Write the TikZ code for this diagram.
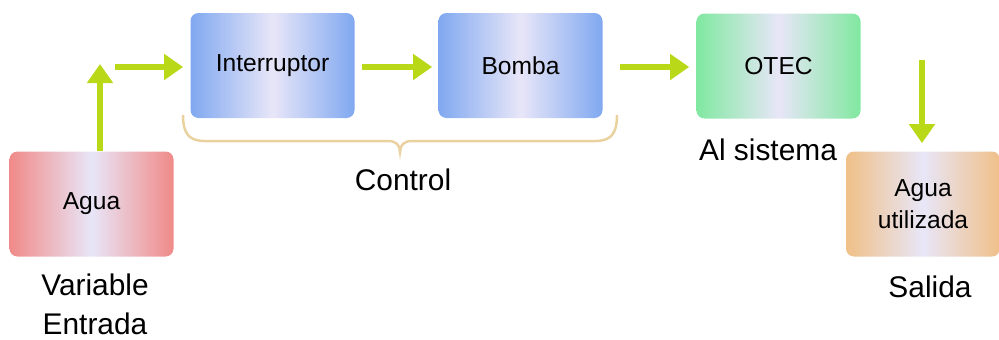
\documentclass[tikz,border=0pt]{standalone}
\usepackage{fontspec}
\setmainfont{Liberation Sans}
\usetikzlibrary{arrows.meta, positioning}

\definecolor{aguared}{HTML}{F08A88}
\definecolor{ctrlblue}{HTML}{80A8F0}
\definecolor{otecgreen}{HTML}{80E8A0}
\definecolor{outorange}{HTML}{F0C088}
\definecolor{boxmid}{HTML}{E8E6F8}
\definecolor{flowgreen}{HTML}{B8D818}
\definecolor{bracetan}{HTML}{EAD2A0}

\begin{document}
\begin{tikzpicture}[
    box_style/.style={rounded corners=1.6mm, minimum width=3.28cm, minimum height=2.1cm,
        inner sep=0pt, align=center, font=\fontsize{14}{18.5}\selectfont,
        left color=#1, right color=#1, middle color=boxmid},
    flow_style/.style={-{Triangle[length=3.8mm, width=5mm]}, line width=1.2mm, flowgreen},
    label_style/.style={align=center, font=\fontsize{17}{22}\selectfont, inner sep=0pt}
]
    \useasboundingbox (0,0) rectangle (19.98,-6.78);

    % Boxes
    \node[box_style=aguared] (agua) at (1.83,-4.08) {Agua};
    \node[box_style=ctrlblue] (interruptor) at (5.45,-1.31) {Interruptor};
    \node[box_style=ctrlblue] (bomba) at (10.41,-1.31) {Bomba};
    \node[box_style=otecgreen] (otec) at (15.57,-1.32) {OTEC};
    \node[box_style=outorange, minimum width=3.08cm] (usada) at (18.46,-4.08) {Agua\\utilizada};

    % Labels
    \node[label_style] (entrada) at (1.9,-6.08) {Variable\\Entrada};
    \node[label_style] (control) at (8.06,-3.6) {Control};
    \node[label_style] (sistema) at (15.36,-3.0) {Al sistema};
    \node[label_style] (salida) at (18.6,-5.74) {Salida};

    % Free ends of the flows
    \coordinate (upend) at (2.0,-1.28);
    \coordinate (feedstart) at (2.3,-1.34);
    \coordinate (outstart) at (18.44,-1.2);

    % Flows
    \draw[flow_style] (agua.north -| upend) -- (upend);
    \draw[flow_style, shorten >=1.4mm] (feedstart) -- (feedstart -| interruptor.west);
    \draw[flow_style, shorten <=1.4mm, shorten >=1.2mm] (interruptor.east |- feedstart) -- (bomba.west |- feedstart);
    \draw[flow_style, shorten <=3.4mm, shorten >=1.4mm] (bomba.east |- feedstart) -- (otec.west |- feedstart);
    \draw[flow_style, shorten >=1.6mm] (outstart) -- (outstart |- usada.north);

    % Brace under the control stage
    \coordinate (braceleft) at (3.66,-2.3);
    \coordinate (braceright) at (12.34,-2.3);
    \coordinate (bracetip) at (8.0,-3.04);
    \draw[bracetan, line width=0.5mm] (braceleft) .. controls (3.66,-2.7) and (3.8,-2.82) .. (4.1,-2.82)
        -- (7.76,-2.82) .. controls (7.92,-2.82) and (8.0,-2.9) .. (bracetip)
        .. controls (8.0,-2.9) and (8.08,-2.82) .. (8.24,-2.82)
        -- (11.9,-2.82) .. controls (12.2,-2.82) and (12.34,-2.7) .. (braceright);

\end{tikzpicture}
\end{document}
